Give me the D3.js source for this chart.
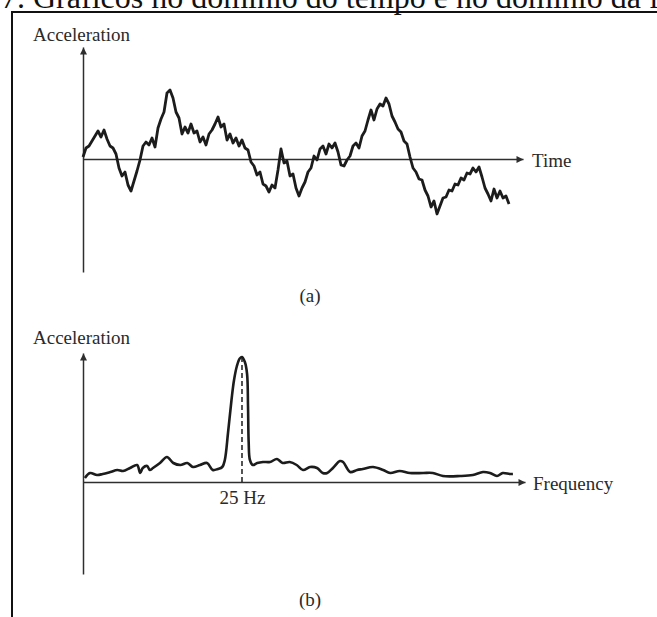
<!DOCTYPE html>
<html>
<head>
<meta charset="utf-8">
<script src="https://cdn.jsdelivr.net/npm/d3@7"></script>
<style>
  html, body { margin: 0; padding: 0; background: #fff; }
  svg { display: block; }
  text { font-family: "Liberation Serif", "Times New Roman", serif; fill: #2a2a2a; }
</style>
</head>
<body>
<svg id="fig" width="657" height="617"></svg>
<script>
// (a) acceleration record, one value per time sample
const timeAcceleration = [
  0.2, 1.1, 1.3, 1.8, 2.3, 2.8, 2.2, 2.9, 2.0, 1.3, 1.1, 0.5, -0.9, -1.7, -1.3, -2.6,
  -3.2, -2.2, -1.2, -0.1, 1.3, 1.7, 1.4, 2.1, 1.2, 3.1, 4.0, 4.7, 6.6, 6.9, 6.1, 4.7,
  4.1, 2.5, 3.2, 2.6, 3.5, 2.6, 2.8, 1.7, 2.2, 1.4, 2.5, 2.9, 3.5, 4.2, 3.2, 3.5,
  1.9, 2.5, 1.6, 2.1, 1.3, 1.9, 1.1, 0.9, -0.3, -0.7, -1.6, -1.3, -2.5, -2.7, -3.3, -2.6,
  -2.9, -1.1, 1.0, -0.4, -0.2, -1.7, -1.5, -2.9, -3.7, -2.9, -2.3, -1.3, -0.9, 0.3, -0.1, 1.0,
  1.3, 0.5, 1.5, 1.1, 1.6, 0.7, -0.6, -0.7, -0.1, 0.3, 1.3, 1.6, 1.1, 2.3, 2.8, 3.9,
  4.9, 3.9, 5.0, 5.5, 5.3, 6.1, 5.5, 4.3, 3.7, 3.0, 2.7, 1.8, 1.5, 0.2, -0.9, -1.3,
  -2.0, -2.1, -3.1, -3.7, -4.8, -4.2, -5.5, -4.7, -3.9, -3.8, -3.1, -3.2, -2.5, -2.6, -1.9, -2.1,
  -1.4, -1.5, -0.9, -1.3, -0.8, -1.8, -2.9, -3.5, -4.2, -3.0, -3.9, -3.2, -3.9, -3.7, -4.5
];

// (b) spectrum: frequency (Hz) and amplitude
const spectrumHz = [
  0.3, 1.1, 2.2, 3.1, 4.3, 5.4, 6.3, 7.4, 8.5, 9.0, 9.4, 10.1, 10.5, 11.0, 12.1, 13.2,
  14.2, 15.3, 16.4, 17.3, 18.4, 19.5, 20.4, 21.2, 21.9, 22.3, 22.8, 23.35, 23.75, 24.2, 24.65, 25.0,
  25.45, 25.8, 25.95, 26.05, 26.25, 26.7, 27.4, 28.3, 29.4, 30.5, 31.4, 32.5, 33.6, 34.6, 35.7, 36.8,
  37.7, 38.4, 39.3, 40.4, 40.9, 42.0, 43.1, 44.0, 45.6, 47.2, 48.3, 49.8, 51.4, 53.5, 55.0, 56.6,
  59.3, 61.3, 62.9, 64.0, 65.1, 66.0, 67.1, 67.6
];
const spectrumAmp = [
  0.4, 0.9, 0.7, 0.8, 1.0, 1.2, 1.1, 1.4, 1.7, 0.9, 1.4, 1.6, 1.2, 1.4, 1.9, 2.5,
  1.9, 1.7, 1.9, 1.5, 1.7, 1.9, 1.2, 1.3, 1.5, 2.2, 4.9, 8.2, 10.2, 11.6, 12.35, 12.5,
  12.0, 10.8, 7.5, 4.0, 2.2, 1.7, 1.9, 2.0, 2.0, 2.3, 1.9, 2.0, 1.7, 1.2, 1.5, 1.4,
  0.9, 0.9, 1.4, 2.1, 2.0, 1.0, 1.2, 1.3, 1.5, 1.2, 0.9, 1.1, 0.9, 0.9, 0.9, 0.6,
  0.6, 0.7, 1.0, 0.9, 0.6, 0.9, 0.8, 0.8
];

const peakHz = 25;
const peakLabel = "25 Hz";
const titleText = "7. Gráficos no domínio do tempo e no domínio da frequência";

const svg = d3.select("#fig");
const ink = "#1c1c1c";
const axisInk = "#2e2e2e";

// page heading and frame
svg.append("text")
  .attr("x", 1).attr("y", 8)
  .style("font-size", "32px").style("fill", "#111")
  .text(titleText);

svg.append("path")
  .attr("d", "M12,617V12H657")
  .attr("fill", "none").attr("stroke", "#111").attr("stroke-width", 2);

// arrow marker for the axis ends
const defs = svg.append("defs");
defs.append("marker")
  .attr("id", "arrow")
  .attr("viewBox", "0 0 10 10")
  .attr("refX", 10).attr("refY", 5)
  .attr("markerUnits", "userSpaceOnUse")
  .attr("markerWidth", 9).attr("markerHeight", 7)
  .attr("orient", "auto")
  .append("path").attr("d", "M0,0L10,5L0,10Z").attr("fill", axisInk);

function styleAxis(g) {
  g.select(".domain")
    .attr("stroke", axisInk).attr("stroke-width", 1.5)
    .attr("marker-end", "url(#arrow)");
  g.selectAll(".tick line").remove();
}

// ---------- (a) time domain ----------
const xA = d3.scaleLinear().domain([0, 440 / 3]).range([83, 523]);
const yA = d3.scaleLinear().domain([-11.3, 11.2]).range([272, 47]);

svg.append("g")
  .attr("transform", `translate(0,${yA(0)})`)
  .call(d3.axisBottom(xA).tickValues([]).tickSizeOuter(0))
  .call(styleAxis);

svg.append("g")
  .attr("transform", `translate(${xA(0)},0)`)
  .call(d3.axisLeft(yA).tickValues([]).tickSizeOuter(0))
  .call(styleAxis);

svg.append("path")
  .datum(timeAcceleration)
  .attr("fill", "none")
  .attr("stroke", ink)
  .attr("stroke-width", 2.8)
  .attr("stroke-linejoin", "round")
  .attr("d", d3.line().x((d, i) => xA(i)).y(d => yA(d)));

svg.append("text").attr("x", 33).attr("y", 41)
  .style("font-size", "19px").text("Acceleration");
svg.append("text").attr("x", 532).attr("y", 166.5)
  .style("font-size", "19px").text("Time");
svg.append("text").attr("x", 310).attr("y", 302).attr("text-anchor", "middle")
  .style("font-size", "19px").text("(a)");

// ---------- (b) frequency domain ----------
const xB = d3.scaleLinear().domain([0, 69.5]).range([83, 525]);
const yB = d3.scaleLinear().domain([-9.2, 12.9]).range([574, 353]);

svg.append("g")
  .attr("transform", `translate(0,${yB(0)})`)
  .call(d3.axisBottom(xB).tickValues([peakHz]).tickFormat(() => peakLabel)
    .tickSize(0).tickPadding(9).tickSizeOuter(0))
  .call(styleAxis)
  .call(g => g.selectAll(".tick text")
    .style("font-size", "19px")
    .style("font-family", "'Liberation Serif', 'Times New Roman', serif")
    .attr("fill", "#2a2a2a"));

svg.append("g")
  .attr("transform", `translate(${xB(0)},0)`)
  .call(d3.axisLeft(yB).tickValues([]).tickSizeOuter(0))
  .call(styleAxis);

const peakAmp = spectrumAmp[spectrumHz.indexOf(peakHz)];
svg.append("line")
  .attr("x1", xB(peakHz)).attr("x2", xB(peakHz))
  .attr("y1", yB(0)).attr("y2", yB(peakAmp))
  .attr("stroke", ink).attr("stroke-width", 1.5)
  .attr("stroke-dasharray", "5,3");

svg.append("path")
  .datum(spectrumHz.map((f, i) => [f, spectrumAmp[i]]))
  .attr("fill", "none")
  .attr("stroke", ink)
  .attr("stroke-width", 2.6)
  .attr("stroke-linejoin", "round")
  .attr("d", d3.line().x(d => xB(d[0])).y(d => yB(d[1])).curve(d3.curveCatmullRom.alpha(0.5)));

svg.append("text").attr("x", 33).attr("y", 344)
  .style("font-size", "19px").text("Acceleration");
svg.append("text").attr("x", 533).attr("y", 490)
  .style("font-size", "19px").text("Frequency");
svg.append("text").attr("x", 310).attr("y", 606).attr("text-anchor", "middle")
  .style("font-size", "19px").text("(b)");
</script>
</body>
</html>
